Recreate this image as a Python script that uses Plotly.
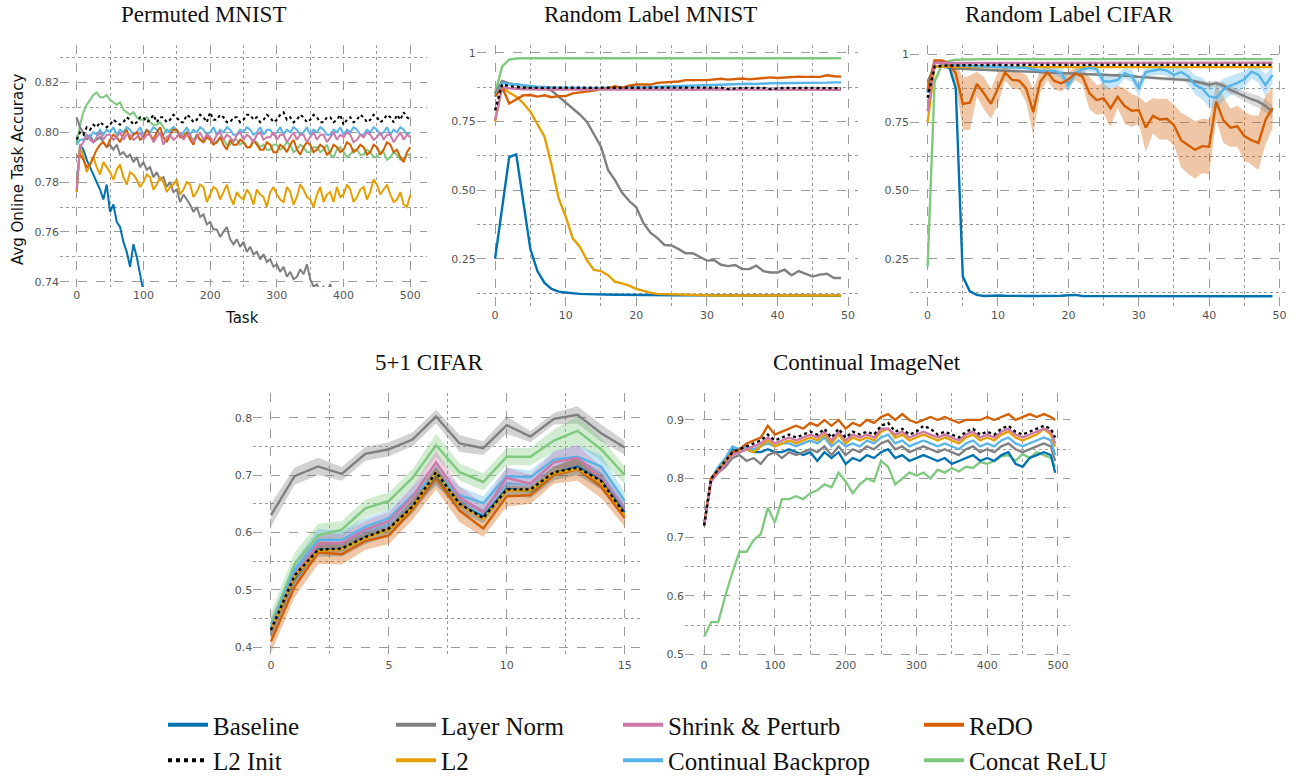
import plotly.graph_objects as go

# ---------------- colours ----------------
COL = {
    "Baseline": "#0072B2",
    "Layer Norm": "#7f7f7f",
    "Shrink & Perturb": "#CC79A7",
    "ReDO": "#D55E00",
    "L2 Init": "#000000",
    "L2": "#E69F00",
    "Continual Backprop": "#56B4E9",
    "Concat ReLU": "#7fc97f",
}

# ---------------- Permuted MNIST (tasks every 5) ----------------
pm_tasks = list(range(0, 501, 5))
pm_base = [0.776, 0.795, 0.793, 0.789, 0.786, 0.783, 0.780, 0.777, 0.773, 0.779,
           0.768, 0.771, 0.764, 0.762, 0.756, 0.752, 0.746, 0.755, 0.750, 0.742, 0.736]
pm_ln = [0.806, 0.802, 0.800, 0.797, 0.799, 0.796, 0.797, 0.798, 0.796, 0.794,
         0.795, 0.793, 0.795, 0.791, 0.792, 0.790, 0.791, 0.788, 0.790, 0.786,
         0.788, 0.785, 0.786, 0.782, 0.784, 0.781, 0.782, 0.778, 0.780, 0.776,
         0.777, 0.772, 0.775, 0.773, 0.771, 0.768, 0.770, 0.766, 0.767, 0.763,
         0.764, 0.761, 0.761, 0.758, 0.760, 0.762, 0.757, 0.755, 0.757, 0.754,
         0.756, 0.752, 0.754, 0.751, 0.752, 0.749, 0.751, 0.748, 0.749, 0.746,
         0.747, 0.744, 0.746, 0.742, 0.744, 0.741, 0.742, 0.745, 0.743, 0.747,
         0.741, 0.738, 0.739, 0.736, 0.738, 0.736, 0.739, 0.735, 0.734, 0.733, 0.732]
pm_cr = [0.795, 0.803, 0.808, 0.811, 0.813, 0.815, 0.816, 0.814, 0.814, 0.815,
         0.813, 0.812, 0.811, 0.812, 0.809, 0.808, 0.807, 0.808, 0.806, 0.805,
         0.805, 0.806, 0.804, 0.803, 0.803, 0.804, 0.802, 0.800, 0.801, 0.802,
         0.800, 0.799, 0.799, 0.800, 0.798, 0.797, 0.799, 0.797, 0.797, 0.798,
         0.798, 0.796, 0.796, 0.798, 0.797, 0.795, 0.795, 0.797, 0.797, 0.795,
         0.796, 0.794, 0.794, 0.796, 0.796, 0.794, 0.795, 0.793, 0.793, 0.795,
         0.795, 0.793, 0.794, 0.796, 0.795, 0.792, 0.793, 0.795, 0.794, 0.792,
         0.792, 0.794, 0.794, 0.792, 0.793, 0.795, 0.791, 0.790, 0.793, 0.794,
         0.792, 0.790, 0.791, 0.793, 0.793, 0.791, 0.791, 0.793, 0.792, 0.790,
         0.790, 0.792, 0.792, 0.789, 0.790, 0.792, 0.791, 0.789, 0.789, 0.791, 0.791]
pm_l2init = [0.797, 0.800, 0.799, 0.802, 0.801, 0.803, 0.802, 0.804, 0.803, 0.802,
             0.803, 0.805, 0.804, 0.803, 0.804, 0.806, 0.805, 0.803, 0.804, 0.806,
             0.806, 0.804, 0.805, 0.807, 0.804, 0.806, 0.806, 0.804, 0.805, 0.807,
             0.806, 0.804, 0.804, 0.807, 0.806, 0.804, 0.805, 0.807, 0.806, 0.804,
             0.808, 0.805, 0.805, 0.807, 0.806, 0.804, 0.804, 0.806, 0.806, 0.804,
             0.805, 0.807, 0.807, 0.805, 0.806, 0.804, 0.805, 0.807, 0.806, 0.804,
             0.805, 0.807, 0.808, 0.805, 0.806, 0.804, 0.805, 0.807, 0.806, 0.804,
             0.805, 0.807, 0.806, 0.804, 0.804, 0.806, 0.806, 0.804, 0.805, 0.807,
             0.803, 0.805, 0.806, 0.804, 0.805, 0.807, 0.806, 0.804, 0.805, 0.807,
             0.806, 0.804, 0.805, 0.807, 0.806, 0.804, 0.807, 0.805, 0.808, 0.806, 0.805]
pm_cb = [0.795, 0.797, 0.797, 0.799, 0.798, 0.800, 0.799, 0.801, 0.799, 0.801,
         0.800, 0.802, 0.799, 0.801, 0.800, 0.802, 0.801, 0.799, 0.800, 0.802,
         0.799, 0.801, 0.800, 0.802, 0.801, 0.799, 0.799, 0.801, 0.800, 0.802,
         0.801, 0.799, 0.800, 0.802, 0.799, 0.801, 0.800, 0.802, 0.801, 0.799,
         0.800, 0.802, 0.799, 0.801, 0.800, 0.802, 0.801, 0.799, 0.799, 0.801,
         0.800, 0.802, 0.801, 0.799, 0.800, 0.802, 0.799, 0.801, 0.801, 0.799,
         0.800, 0.802, 0.799, 0.801, 0.800, 0.802, 0.801, 0.799, 0.800, 0.802,
         0.799, 0.801, 0.800, 0.802, 0.801, 0.799, 0.799, 0.801, 0.800, 0.802,
         0.799, 0.801, 0.800, 0.802, 0.801, 0.799, 0.799, 0.801, 0.800, 0.802,
         0.801, 0.799, 0.800, 0.802, 0.799, 0.801, 0.800, 0.802, 0.801, 0.799, 0.800]
pm_sp = [0.777, 0.794, 0.796, 0.799, 0.797, 0.796, 0.798, 0.800, 0.797, 0.799,
         0.799, 0.797, 0.798, 0.800, 0.797, 0.799, 0.799, 0.797, 0.798, 0.800,
         0.797, 0.799, 0.799, 0.796, 0.798, 0.800, 0.795, 0.798, 0.799, 0.797,
         0.798, 0.800, 0.797, 0.799, 0.799, 0.796, 0.798, 0.800, 0.797, 0.799,
         0.798, 0.796, 0.799, 0.800, 0.797, 0.799, 0.798, 0.796, 0.799, 0.800,
         0.797, 0.799, 0.798, 0.796, 0.799, 0.800, 0.797, 0.798, 0.798, 0.800,
         0.797, 0.799, 0.799, 0.796, 0.798, 0.800, 0.797, 0.799, 0.799, 0.796,
         0.798, 0.800, 0.797, 0.799, 0.799, 0.796, 0.798, 0.800, 0.797, 0.799,
         0.798, 0.800, 0.799, 0.796, 0.797, 0.799, 0.798, 0.800, 0.799, 0.797,
         0.798, 0.800, 0.797, 0.799, 0.799, 0.796, 0.798, 0.800, 0.797, 0.799, 0.798]
pm_redo = [0.790, 0.791, 0.789, 0.786, 0.787, 0.790, 0.793, 0.795, 0.796, 0.794,
           0.797, 0.799, 0.798, 0.796, 0.799, 0.801, 0.797, 0.799, 0.800, 0.797,
           0.798, 0.801, 0.799, 0.797, 0.800, 0.802, 0.798, 0.796, 0.799, 0.801,
           0.801, 0.798, 0.798, 0.800, 0.797, 0.795, 0.799, 0.797, 0.796, 0.798,
           0.797, 0.795, 0.796, 0.798, 0.795, 0.793, 0.797, 0.795, 0.795, 0.797,
           0.796, 0.794, 0.794, 0.797, 0.795, 0.793, 0.793, 0.796, 0.795, 0.792,
           0.792, 0.795, 0.794, 0.792, 0.795, 0.797, 0.793, 0.791, 0.794, 0.796,
           0.795, 0.792, 0.793, 0.795, 0.794, 0.791, 0.792, 0.795, 0.794, 0.792,
           0.793, 0.796, 0.795, 0.792, 0.793, 0.795, 0.794, 0.791, 0.792, 0.795,
           0.794, 0.791, 0.793, 0.796, 0.795, 0.792, 0.793, 0.790, 0.788, 0.792, 0.794]
pm_l2 = [0.776, 0.795, 0.790, 0.784, 0.787, 0.790, 0.786, 0.783, 0.788, 0.786,
         0.784, 0.781, 0.785, 0.787, 0.782, 0.779, 0.784, 0.783, 0.781, 0.778,
         0.780, 0.783, 0.782, 0.777, 0.779, 0.782, 0.780, 0.776, 0.778, 0.779,
         0.781, 0.775, 0.777, 0.780, 0.779, 0.774, 0.776, 0.779, 0.778, 0.772,
         0.775, 0.778, 0.777, 0.773, 0.776, 0.779, 0.774, 0.771, 0.776, 0.774,
         0.773, 0.777, 0.775, 0.771, 0.777, 0.775, 0.774, 0.770, 0.776, 0.778,
         0.775, 0.773, 0.772, 0.778, 0.776, 0.771, 0.774, 0.779, 0.777, 0.774,
         0.773, 0.770, 0.775, 0.778, 0.772, 0.775, 0.776, 0.772, 0.778, 0.774,
         0.775, 0.779, 0.777, 0.772, 0.774, 0.777, 0.778, 0.773, 0.776, 0.781,
         0.779, 0.775, 0.777, 0.779, 0.775, 0.772, 0.773, 0.776, 0.771, 0.770, 0.775]

# ---------------- Random Label MNIST (tasks 0..49) ----------------
rl_tasks = list(range(50))
rm_cr = [0.85, 0.95, 0.975, 0.979, 0.98, 0.98, 0.98, 0.98, 0.98, 0.98,
         0.98, 0.98, 0.98, 0.98, 0.98, 0.98, 0.98, 0.98, 0.98, 0.98,
         0.98, 0.98, 0.98, 0.98, 0.98, 0.98, 0.98, 0.98, 0.98, 0.98,
         0.98, 0.98, 0.98, 0.98, 0.98, 0.98, 0.98, 0.98, 0.98, 0.98,
         0.98, 0.98, 0.98, 0.98, 0.98, 0.98, 0.98, 0.98, 0.98, 0.98]
rm_base = [0.25, 0.44, 0.62, 0.63, 0.46, 0.285, 0.205, 0.162, 0.14, 0.13,
           0.127, 0.124, 0.122, 0.121, 0.12, 0.12, 0.119, 0.119, 0.119, 0.118,
           0.118, 0.118, 0.118, 0.117, 0.117, 0.117, 0.117, 0.117, 0.116, 0.116,
           0.116, 0.116, 0.116, 0.116, 0.116, 0.116, 0.116, 0.115, 0.115, 0.115,
           0.115, 0.115, 0.115, 0.115, 0.115, 0.115, 0.115, 0.115, 0.115, 0.115]
rm_l2 = [0.75, 0.875, 0.855, 0.84, 0.816, 0.785, 0.74, 0.694, 0.591, 0.47,
         0.403, 0.324, 0.294, 0.245, 0.209, 0.205, 0.19, 0.166, 0.16, 0.152,
         0.14, 0.132, 0.126, 0.122, 0.121, 0.12, 0.119, 0.119, 0.118, 0.117,
         0.117, 0.116, 0.116, 0.116, 0.116, 0.116, 0.116, 0.116, 0.116, 0.116,
         0.116, 0.116, 0.116, 0.116, 0.116, 0.116, 0.116, 0.116, 0.116, 0.116]
rm_ln = [0.85, 0.897, 0.888, 0.885, 0.88, 0.875, 0.872, 0.87, 0.862, 0.84,
         0.82, 0.797, 0.775, 0.749, 0.704, 0.658, 0.573, 0.535, 0.49, 0.46,
         0.437, 0.38, 0.345, 0.325, 0.30, 0.298, 0.285, 0.27, 0.27, 0.255,
         0.243, 0.245, 0.228, 0.223, 0.227, 0.212, 0.212, 0.225, 0.205, 0.2,
         0.2, 0.21, 0.19, 0.205, 0.195, 0.185, 0.192, 0.195, 0.18, 0.18]
rm_redo = [0.84, 0.875, 0.815, 0.83, 0.845, 0.846, 0.84, 0.845, 0.838, 0.842,
           0.842, 0.852, 0.855, 0.857, 0.862, 0.868, 0.87, 0.878, 0.872, 0.88,
           0.884, 0.884, 0.884, 0.89, 0.892, 0.893, 0.895, 0.9, 0.899, 0.9,
           0.9, 0.903, 0.905, 0.902, 0.905, 0.906, 0.903, 0.905, 0.908, 0.91,
           0.908, 0.91, 0.912, 0.913, 0.912, 0.913, 0.912, 0.918, 0.914, 0.913]
rm_cb = [0.84, 0.89, 0.885, 0.885, 0.882, 0.878, 0.876, 0.875, 0.873, 0.872,
         0.873, 0.872, 0.872, 0.872, 0.871, 0.872, 0.872, 0.873, 0.873, 0.873,
         0.874, 0.874, 0.875, 0.876, 0.877, 0.878, 0.879, 0.88, 0.881, 0.882,
         0.883, 0.884, 0.885, 0.886, 0.886, 0.887, 0.887, 0.886, 0.888, 0.889,
         0.889, 0.889, 0.89, 0.89, 0.89, 0.89, 0.891, 0.891, 0.892, 0.892]
rm_l2init = [0.79, 0.885, 0.878, 0.875, 0.873, 0.872, 0.872, 0.873, 0.872, 0.871,
             0.872, 0.871, 0.872, 0.872, 0.871, 0.872, 0.871, 0.872, 0.873, 0.872,
             0.871, 0.872, 0.871, 0.872, 0.872, 0.871, 0.872, 0.871, 0.872, 0.872,
             0.871, 0.872, 0.873, 0.868, 0.871, 0.872, 0.872, 0.871, 0.872, 0.868,
             0.871, 0.872, 0.871, 0.872, 0.871, 0.872, 0.871, 0.872, 0.871, 0.871]
rm_sp = [0.755, 0.875, 0.870, 0.868, 0.867, 0.867, 0.866, 0.866, 0.866, 0.867,
         0.866, 0.865, 0.866, 0.866, 0.867, 0.866, 0.866, 0.865, 0.866, 0.866,
         0.867, 0.866, 0.866, 0.865, 0.866, 0.866, 0.867, 0.866, 0.865, 0.866,
         0.866, 0.867, 0.866, 0.866, 0.865, 0.866, 0.866, 0.867, 0.866, 0.865,
         0.866, 0.866, 0.866, 0.865, 0.866, 0.866, 0.866, 0.865, 0.866, 0.865]

# ---------------- Random Label CIFAR (tasks 0..49) ----------------
rc_base = [0.86, 0.975, 0.975, 0.96, 0.875, 0.185, 0.13, 0.117, 0.113, 0.115,
           0.115, 0.114, 0.113, 0.113, 0.113, 0.113, 0.113, 0.113, 0.113, 0.114,
           0.116, 0.117, 0.113, 0.113, 0.112, 0.112, 0.112, 0.112, 0.112, 0.112,
           0.112, 0.112, 0.112, 0.112, 0.112, 0.112, 0.112, 0.112, 0.112, 0.112,
           0.112, 0.112, 0.112, 0.112, 0.112, 0.112, 0.112, 0.112, 0.112, 0.112]
rc_cr = [0.22, 0.90, 0.96, 0.975, 0.98, 0.981, 0.982, 0.982, 0.982, 0.982,
         0.982, 0.982, 0.982, 0.982, 0.982, 0.982, 0.982, 0.982, 0.982, 0.982,
         0.982, 0.982, 0.982, 0.982, 0.982, 0.982, 0.982, 0.982, 0.982, 0.982,
         0.982, 0.982, 0.982, 0.982, 0.982, 0.982, 0.982, 0.982, 0.982, 0.982,
         0.982, 0.982, 0.982, 0.982, 0.982, 0.982, 0.982, 0.982, 0.982, 0.982]
rc_redo = [0.869, 0.977, 0.977, 0.967, 0.93, 0.818, 0.822, 0.891, 0.857, 0.818,
           0.875, 0.933, 0.906, 0.903, 0.875, 0.789, 0.899, 0.934, 0.902, 0.893,
           0.908, 0.930, 0.918, 0.857, 0.832, 0.838, 0.802, 0.844, 0.810, 0.793,
           0.795, 0.731, 0.774, 0.761, 0.763, 0.740, 0.685, 0.667, 0.649, 0.663,
           0.661, 0.826, 0.759, 0.731, 0.736, 0.700, 0.685, 0.675, 0.759, 0.802]
rc_redo_sd = [0.01, 0.005, 0.005, 0.01, 0.04, 0.095, 0.1, 0.045, 0.06, 0.055,
              0.06, 0.028, 0.032, 0.032, 0.05, 0.085, 0.038, 0.028, 0.032, 0.03,
              0.025, 0.025, 0.03, 0.06, 0.055, 0.055, 0.07, 0.04, 0.065, 0.06,
              0.05, 0.09, 0.065, 0.075, 0.075, 0.075, 0.1, 0.105, 0.105, 0.1,
              0.1, 0.065, 0.085, 0.07, 0.075, 0.09, 0.09, 0.1, 0.09, 0.075]
rc_cb = [0.87, 0.97, 0.97, 0.965, 0.96, 0.958, 0.957, 0.956, 0.955, 0.955,
         0.955, 0.954, 0.953, 0.952, 0.95, 0.945, 0.94, 0.938, 0.94, 0.93,
         0.887, 0.93, 0.945, 0.95, 0.946, 0.9, 0.9, 0.906, 0.93, 0.92,
         0.875, 0.935, 0.94, 0.945, 0.94, 0.924, 0.935, 0.92, 0.887, 0.875,
         0.845, 0.84, 0.87, 0.885, 0.895, 0.908, 0.936, 0.925, 0.887, 0.924]
rc_cb_sd = [0.01, 0.005, 0.005, 0.005, 0.005, 0.006, 0.006, 0.006, 0.006, 0.007,
            0.007, 0.007, 0.008, 0.008, 0.008, 0.01, 0.01, 0.012, 0.015, 0.02,
            0.025, 0.015, 0.012, 0.012, 0.015, 0.03, 0.025, 0.025, 0.02, 0.022,
            0.03, 0.02, 0.018, 0.02, 0.02, 0.025, 0.022, 0.03, 0.035, 0.04,
            0.04, 0.045, 0.04, 0.035, 0.035, 0.03, 0.025, 0.03, 0.04, 0.03]
rc_ln = [0.9, 0.955, 0.955, 0.95, 0.948, 0.946, 0.945, 0.944, 0.943, 0.942,
         0.94, 0.94, 0.939, 0.938, 0.937, 0.935, 0.935, 0.934, 0.933, 0.932,
         0.93, 0.93, 0.929, 0.928, 0.927, 0.925, 0.925, 0.924, 0.922, 0.92,
         0.917, 0.915, 0.913, 0.911, 0.909, 0.907, 0.905, 0.905, 0.9, 0.895,
         0.888, 0.894, 0.885, 0.869, 0.858, 0.845, 0.835, 0.826, 0.81, 0.789]
rc_ln_sd = [0.01, 0.005, 0.004, 0.004, 0.004, 0.004, 0.004, 0.004, 0.004, 0.004,
            0.004, 0.004, 0.004, 0.004, 0.004, 0.004, 0.004, 0.004, 0.004, 0.004,
            0.004, 0.004, 0.004, 0.004, 0.004, 0.005, 0.005, 0.005, 0.005, 0.005,
            0.005, 0.005, 0.006, 0.006, 0.006, 0.006, 0.007, 0.007, 0.008, 0.008,
            0.01, 0.01, 0.012, 0.014, 0.016, 0.018, 0.02, 0.022, 0.024, 0.025]
rc_l2init = [0.84, 0.955, 0.958, 0.959, 0.959, 0.96, 0.96, 0.96, 0.961, 0.96,
             0.961, 0.96, 0.961, 0.96, 0.961, 0.961, 0.96, 0.961, 0.961, 0.96,
             0.961, 0.961, 0.96, 0.961, 0.961, 0.96, 0.961, 0.961, 0.96, 0.961,
             0.961, 0.96, 0.961, 0.961, 0.96, 0.961, 0.961, 0.96, 0.961, 0.961,
             0.96, 0.961, 0.961, 0.96, 0.961, 0.961, 0.96, 0.961, 0.961, 0.961]
rc_sp = [0.79, 0.968, 0.968, 0.968, 0.969, 0.969, 0.969, 0.969, 0.969, 0.969,
         0.969, 0.969, 0.969, 0.969, 0.969, 0.969, 0.969, 0.969, 0.969, 0.969,
         0.969, 0.969, 0.969, 0.969, 0.969, 0.969, 0.969, 0.969, 0.969, 0.969,
         0.969, 0.969, 0.969, 0.969, 0.969, 0.969, 0.969, 0.969, 0.969, 0.969,
         0.969, 0.969, 0.969, 0.969, 0.969, 0.969, 0.969, 0.969, 0.969, 0.969]
rc_l2 = [0.75, 0.955, 0.955, 0.954, 0.954, 0.954, 0.953, 0.953, 0.953, 0.953,
         0.953, 0.953, 0.953, 0.953, 0.953, 0.953, 0.953, 0.953, 0.953, 0.953,
         0.953, 0.953, 0.953, 0.953, 0.953, 0.953, 0.953, 0.953, 0.953, 0.953,
         0.953, 0.953, 0.953, 0.953, 0.953, 0.953, 0.953, 0.953, 0.953, 0.953,
         0.953, 0.953, 0.953, 0.953, 0.953, 0.953, 0.953, 0.953, 0.953, 0.953]

# ---------------- 5+1 CIFAR (tasks 0..15) ----------------
fc_tasks = list(range(16))
fc_ln = [0.63, 0.698, 0.715, 0.702, 0.737, 0.745, 0.762, 0.802, 0.755, 0.747, 0.787, 0.767, 0.798, 0.805, 0.773, 0.748]
fc_ln_sd = [0.02, 0.015, 0.015, 0.012, 0.012, 0.012, 0.012, 0.012, 0.015, 0.012, 0.015, 0.01, 0.01, 0.015, 0.015, 0.012]
fc_cr = [0.44, 0.545, 0.595, 0.605, 0.642, 0.655, 0.695, 0.752, 0.705, 0.688, 0.732, 0.732, 0.76, 0.777, 0.745, 0.70]
fc_cr_sd = [0.02, 0.02, 0.02, 0.015, 0.015, 0.015, 0.015, 0.02, 0.015, 0.015, 0.015, 0.015, 0.02, 0.025, 0.02, 0.015]
fc_cb = [0.435, 0.535, 0.587, 0.587, 0.61, 0.625, 0.665, 0.70, 0.665, 0.651, 0.698, 0.696, 0.727, 0.732, 0.715, 0.655]
fc_cb_sd = [0.015, 0.015, 0.02, 0.015, 0.015, 0.015, 0.015, 0.02, 0.015, 0.012, 0.015, 0.012, 0.015, 0.02, 0.02, 0.015]
fc_sp = [0.43, 0.525, 0.58, 0.582, 0.605, 0.62, 0.662, 0.722, 0.662, 0.635, 0.695, 0.685, 0.722, 0.73, 0.695, 0.64]
fc_sp_sd = [0.02, 0.015, 0.018, 0.015, 0.015, 0.015, 0.018, 0.02, 0.018, 0.015, 0.018, 0.015, 0.018, 0.022, 0.02, 0.015]
fc_base = [0.43, 0.52, 0.57, 0.57, 0.592, 0.605, 0.645, 0.70, 0.648, 0.628, 0.676, 0.672, 0.703, 0.715, 0.69, 0.635]
fc_base_sd = [0.015, 0.012, 0.012, 0.012, 0.012, 0.012, 0.012, 0.015, 0.012, 0.012, 0.012, 0.012, 0.012, 0.015, 0.015, 0.012]
fc_l2 = [0.43, 0.523, 0.568, 0.57, 0.59, 0.605, 0.643, 0.703, 0.648, 0.623, 0.673, 0.673, 0.703, 0.711, 0.688, 0.63]
fc_l2init = [0.43, 0.525, 0.57, 0.572, 0.592, 0.607, 0.645, 0.705, 0.65, 0.625, 0.675, 0.675, 0.705, 0.713, 0.69, 0.632]
fc_redo = [0.41, 0.505, 0.565, 0.562, 0.585, 0.595, 0.64, 0.695, 0.638, 0.607, 0.663, 0.665, 0.70, 0.71, 0.68, 0.625]
fc_redo_sd = [0.02, 0.018, 0.02, 0.018, 0.015, 0.015, 0.018, 0.02, 0.02, 0.015, 0.018, 0.015, 0.015, 0.02, 0.02, 0.015]

# ---------------- Continual ImageNet (every 10 tasks) ----------------
ci_tasks = list(range(0, 500, 10)) + [496]
ci_cr = [0.53, 0.555, 0.555, 0.60, 0.64, 0.675, 0.675, 0.695, 0.705, 0.75,
         0.725, 0.765, 0.765, 0.77, 0.765, 0.775, 0.78, 0.79, 0.785, 0.81,
         0.795, 0.775, 0.79, 0.80, 0.795, 0.83, 0.82, 0.79, 0.80, 0.81,
         0.805, 0.81, 0.80, 0.815, 0.81, 0.818, 0.812, 0.82, 0.818, 0.828,
         0.825, 0.83, 0.838, 0.84, 0.83, 0.842, 0.835, 0.845, 0.84, 0.835, 0.82]
ci_redo = [0.72, 0.80, 0.815, 0.825, 0.845, 0.85, 0.86, 0.865, 0.87, 0.89,
           0.875, 0.88, 0.885, 0.89, 0.885, 0.895, 0.89, 0.90, 0.89, 0.90,
           0.885, 0.895, 0.89, 0.90, 0.895, 0.905, 0.91, 0.90, 0.91, 0.90,
           0.895, 0.90, 0.905, 0.90, 0.905, 0.90, 0.895, 0.90, 0.90, 0.90,
           0.905, 0.90, 0.905, 0.91, 0.90, 0.905, 0.91, 0.905, 0.91, 0.905, 0.90]
ci_l2init = [0.72, 0.80, 0.815, 0.83, 0.845, 0.85, 0.855, 0.86, 0.865, 0.875,
             0.865, 0.87, 0.875, 0.87, 0.875, 0.88, 0.875, 0.885, 0.87, 0.885,
             0.87, 0.88, 0.875, 0.88, 0.875, 0.89, 0.895, 0.88, 0.885, 0.875,
             0.88, 0.89, 0.885, 0.875, 0.88, 0.875, 0.87, 0.88, 0.885, 0.875,
             0.88, 0.875, 0.885, 0.89, 0.88, 0.875, 0.88, 0.885, 0.89, 0.885, 0.87]
ci_sp = [0.72, 0.795, 0.81, 0.825, 0.84, 0.845, 0.85, 0.855, 0.86, 0.87,
         0.86, 0.865, 0.87, 0.865, 0.87, 0.875, 0.87, 0.88, 0.865, 0.88,
         0.865, 0.875, 0.87, 0.875, 0.87, 0.885, 0.885, 0.875, 0.88, 0.87,
         0.875, 0.88, 0.875, 0.87, 0.875, 0.87, 0.865, 0.875, 0.88, 0.87,
         0.875, 0.87, 0.88, 0.885, 0.875, 0.87, 0.875, 0.88, 0.885, 0.88, 0.86]
ci_l2 = [0.72, 0.80, 0.815, 0.83, 0.845, 0.845, 0.85, 0.845, 0.855, 0.865,
         0.855, 0.86, 0.865, 0.86, 0.865, 0.87, 0.865, 0.875, 0.86, 0.875,
         0.86, 0.87, 0.865, 0.87, 0.865, 0.88, 0.885, 0.87, 0.875, 0.865,
         0.87, 0.875, 0.87, 0.865, 0.87, 0.865, 0.86, 0.87, 0.875, 0.865,
         0.87, 0.865, 0.875, 0.88, 0.87, 0.865, 0.87, 0.875, 0.885, 0.875, 0.855]
ci_cb = [0.72, 0.80, 0.82, 0.835, 0.855, 0.85, 0.855, 0.85, 0.855, 0.86,
         0.855, 0.86, 0.86, 0.855, 0.86, 0.865, 0.86, 0.87, 0.855, 0.865,
         0.855, 0.86, 0.855, 0.865, 0.86, 0.87, 0.875, 0.86, 0.865, 0.855,
         0.86, 0.865, 0.86, 0.855, 0.86, 0.855, 0.85, 0.86, 0.865, 0.855,
         0.86, 0.855, 0.865, 0.87, 0.86, 0.855, 0.86, 0.865, 0.87, 0.865, 0.84]
ci_ln = [0.72, 0.80, 0.81, 0.82, 0.835, 0.84, 0.83, 0.835, 0.825, 0.84,
         0.845, 0.835, 0.845, 0.84, 0.845, 0.85, 0.845, 0.855, 0.84, 0.855,
         0.84, 0.85, 0.845, 0.855, 0.85, 0.86, 0.865, 0.85, 0.855, 0.845,
         0.85, 0.855, 0.85, 0.845, 0.85, 0.845, 0.84, 0.85, 0.855, 0.845,
         0.85, 0.845, 0.855, 0.86, 0.85, 0.845, 0.85, 0.855, 0.86, 0.855, 0.83]
ci_base = [0.72, 0.80, 0.815, 0.83, 0.85, 0.845, 0.85, 0.845, 0.845, 0.85,
           0.845, 0.845, 0.85, 0.845, 0.84, 0.845, 0.83, 0.845, 0.835, 0.845,
           0.825, 0.835, 0.83, 0.84, 0.835, 0.845, 0.85, 0.835, 0.84, 0.83,
           0.835, 0.84, 0.835, 0.83, 0.835, 0.825, 0.83, 0.835, 0.84, 0.83,
           0.835, 0.83, 0.84, 0.845, 0.825, 0.82, 0.835, 0.84, 0.845, 0.84, 0.81]

# ---------------- helpers ----------------
def rgba(hexc, a):
    h = hexc.lstrip("#")
    return "rgba(%d,%d,%d,%.2f)" % (int(h[0:2], 16), int(h[2:4], 16), int(h[4:6], 16), a)

fig = go.Figure()

def line(ax, x, y, name, width=2.0):
    dash = "dot" if name == "L2 Init" else "solid"
    fig.add_trace(go.Scatter(x=x[:len(y)], y=y, mode="lines", showlegend=False, hoverinfo="skip",
                             line=dict(color=COL[name], width=width, dash=dash),
                             xaxis="x" + ax, yaxis="y" + ax))

def band(ax, x, y, sd, name, alpha=0.3):
    up = [a + b for a, b in zip(y, sd)]
    lo = [a - b for a, b in zip(y, sd)]
    xx = x[:len(y)]
    fig.add_trace(go.Scatter(x=xx, y=up, mode="lines", line=dict(width=0), showlegend=False,
                             hoverinfo="skip", xaxis="x" + ax, yaxis="y" + ax))
    fig.add_trace(go.Scatter(x=xx, y=lo, mode="lines", line=dict(width=0), fill="tonexty",
                             fillcolor=rgba(COL[name], alpha), showlegend=False,
                             hoverinfo="skip", xaxis="x" + ax, yaxis="y" + ax))

# ---- panel 1
for nm, d in [("Concat ReLU", pm_cr), ("Layer Norm", pm_ln), ("Baseline", pm_base), ("L2", pm_l2),
              ("Continual Backprop", pm_cb), ("ReDO", pm_redo), ("Shrink & Perturb", pm_sp), ("L2 Init", pm_l2init)]:
    line("", pm_tasks, d, nm, 2.0)

# ---- panel 2
for nm, d in [("Concat ReLU", rm_cr), ("Layer Norm", rm_ln), ("Baseline", rm_base), ("L2", rm_l2),
              ("Continual Backprop", rm_cb), ("ReDO", rm_redo), ("Shrink & Perturb", rm_sp), ("L2 Init", rm_l2init)]:
    line("2", rl_tasks, d, nm, 2.4)

# ---- panel 3
band("3", rl_tasks, rc_redo, rc_redo_sd, "ReDO", 0.35)
band("3", rl_tasks, rc_cb, rc_cb_sd, "Continual Backprop", 0.35)
band("3", rl_tasks, rc_ln, rc_ln_sd, "Layer Norm", 0.3)
for nm, d in [("Concat ReLU", rc_cr), ("Layer Norm", rc_ln), ("Baseline", rc_base), ("L2", rc_l2),
              ("Continual Backprop", rc_cb), ("ReDO", rc_redo), ("Shrink & Perturb", rc_sp), ("L2 Init", rc_l2init)]:
    line("3", rl_tasks, d, nm, 2.4)

# ---- panel 4
for nm, d, s in [("Layer Norm", fc_ln, fc_ln_sd), ("Concat ReLU", fc_cr, fc_cr_sd),
                 ("Continual Backprop", fc_cb, fc_cb_sd), ("Shrink & Perturb", fc_sp, fc_sp_sd),
                 ("Baseline", fc_base, fc_base_sd), ("ReDO", fc_redo, fc_redo_sd)]:
    band("4", fc_tasks, d, s, nm, 0.35)
for nm, d in [("Layer Norm", fc_ln), ("Concat ReLU", fc_cr), ("Continual Backprop", fc_cb),
              ("Shrink & Perturb", fc_sp), ("ReDO", fc_redo), ("Baseline", fc_base), ("L2", fc_l2), ("L2 Init", fc_l2init)]:
    line("4", fc_tasks, d, nm, 2.4)

# ---- panel 5
for nm, d in [("Concat ReLU", ci_cr), ("Baseline", ci_base), ("Layer Norm", ci_ln), ("Continual Backprop", ci_cb),
              ("L2", ci_l2), ("ReDO", ci_redo), ("Shrink & Perturb", ci_sp), ("L2 Init", ci_l2init)]:
    line("5", ci_tasks, d, nm, 2.3)

# ---- legend entries (four columns)
legend_cols = [["Baseline", "L2 Init"], ["Layer Norm", "L2"],
               ["Shrink & Perturb", "Continual Backprop"], ["ReDO", "Concat ReLU"]]
for i, col in enumerate(legend_cols):
    lg = "legend" if i == 0 else "legend%d" % (i + 1)
    for nm in col:
        fig.add_trace(go.Scatter(x=[None], y=[None], mode="lines", name=nm, legend=lg,
                                 line=dict(color=COL[nm], width=4, dash="dot" if nm == "L2 Init" else "solid")))

# ---------------- layout ----------------
W, H = 1296, 783
GRID = "#9c9c9c"
TICKF = dict(family="DejaVu Sans", size=11, color="#555555")

def px_x(a, b):
    return [a / W, b / W]

def px_y(top, bot):
    return [1 - bot / H, 1 - top / H]

def ax(domain, rng, tv, tt, minor, anchor):
    return dict(domain=domain, range=rng, tickvals=tv, ticktext=tt, anchor=anchor, automargin=False,
                showgrid=True, gridcolor=GRID, griddash="dash", gridwidth=1,
                zeroline=False, showline=False, ticks="", tickfont=TICKF,
                minor=dict(tickvals=minor, showgrid=True, gridcolor=GRID, griddash="dot", gridwidth=1, ticks=""))

x_pm = [0, 100, 200, 300, 400, 500]
x_rl = [0, 10, 20, 30, 40, 50]
lay = dict(
    width=W, height=H, paper_bgcolor="white", plot_bgcolor="white",
    margin=dict(l=0, r=0, t=0, b=0, autoexpand=False),
    xaxis=ax(px_x(60, 427), [-25, 525], x_pm, [str(v) for v in x_pm], [50, 150, 250, 350, 450], "y"),
    yaxis=ax(px_y(45, 287), [0.7379, 0.835], [0.74, 0.76, 0.78, 0.80, 0.82],
             ["0.74", "0.76", "0.78", "0.80", "0.82"], [0.75, 0.77, 0.79, 0.81, 0.83], "x"),
    xaxis2=ax(px_x(476.7, 858), [-2.6, 51.4], x_rl, [str(v) for v in x_rl], [5, 15, 25, 35, 45], "y2"),
    yaxis2=ax(px_y(45, 306.7), [0.0753, 1.028], [0.25, 0.5, 0.75, 1.0], ["0.25", "0.50", "0.75", "1"],
              [0.125, 0.375, 0.625, 0.875], "x2"),
    xaxis3=ax(px_x(910, 1288), [-2.5, 51.2], x_rl, [str(v) for v in x_rl], [5, 15, 25, 35, 45], "y3"),
    yaxis3=ax(px_y(45, 306.7), [0.0738, 1.034], [0.25, 0.5, 0.75, 1.0], ["0.25", "0.50", "0.75", "1"],
              [0.125, 0.375, 0.625, 0.875], "x3"),
    xaxis4=ax(px_x(253.3, 640), [-0.75, 15.65], [0, 5, 10, 15], ["0", "5", "10", "15"], [2.5, 7.5, 12.5], "y4"),
    yaxis4=ax(px_y(393, 657), [0.383, 0.843], [0.4, 0.5, 0.6, 0.7, 0.8], ["0.4", "0.5", "0.6", "0.7", "0.8"],
              [0.45, 0.55, 0.65, 0.75], "x4"),
    xaxis5=ax(px_x(685, 1070), [-27, 517], x_pm, [str(v) for v in x_pm], [50, 150, 250, 350, 450], "y5"),
    yaxis5=ax(px_y(393, 657), [0.4954, 0.946], [0.5, 0.6, 0.7, 0.8, 0.9], ["0.5", "0.6", "0.7", "0.8", "0.9"],
              [0.55, 0.65, 0.75, 0.85], "x5"),
    showlegend=True,
)
LEGF = dict(family="Liberation Serif", size=25, color="#111111")
text_x = [213, 441, 668, 969]
for i, tx in enumerate(text_x):
    key = "legend" if i == 0 else "legend%d" % (i + 1)
    lay[key] = dict(x=(tx - 50) / W, y=0.0, xanchor="left", yanchor="bottom",
                    orientation="v", font=LEGF, bgcolor="rgba(0,0,0,0)", borderwidth=0,
                    tracegroupgap=0, traceorder="normal", itemwidth=40)
fig.update_layout(**lay)

TITLEF = dict(family="Liberation Serif", size=23, color="#111111")
titles = [("Permuted MNIST", 203, 14), ("Random Label MNIST", 650, 14), ("Random Label CIFAR", 1069, 14),
          ("5+1 CIFAR", 429, 362), ("Continual ImageNet", 867, 362)]
for t, cx, cy in titles:
    fig.add_annotation(text=t, x=cx / W, y=1 - cy / H, xref="paper", yref="paper",
                       showarrow=False, font=TITLEF, xanchor="center", yanchor="middle")
fig.add_annotation(text="Avg Online Task Accuracy", x=18 / W, y=1 - 170 / H, xref="paper", yref="paper",
                   showarrow=False, textangle=-90, font=dict(family="DejaVu Sans", size=15, color="#111111"),
                   xanchor="center", yanchor="middle")
fig.add_annotation(text="Task", x=242 / W, y=1 - 318 / H, xref="paper", yref="paper",
                   showarrow=False, font=dict(family="DejaVu Sans", size=15, color="#111111"),
                   xanchor="center", yanchor="middle")

fig.write_html("out.html", config={"displayModeBar": False},
               post_script="document.body.style.margin='0px';")
